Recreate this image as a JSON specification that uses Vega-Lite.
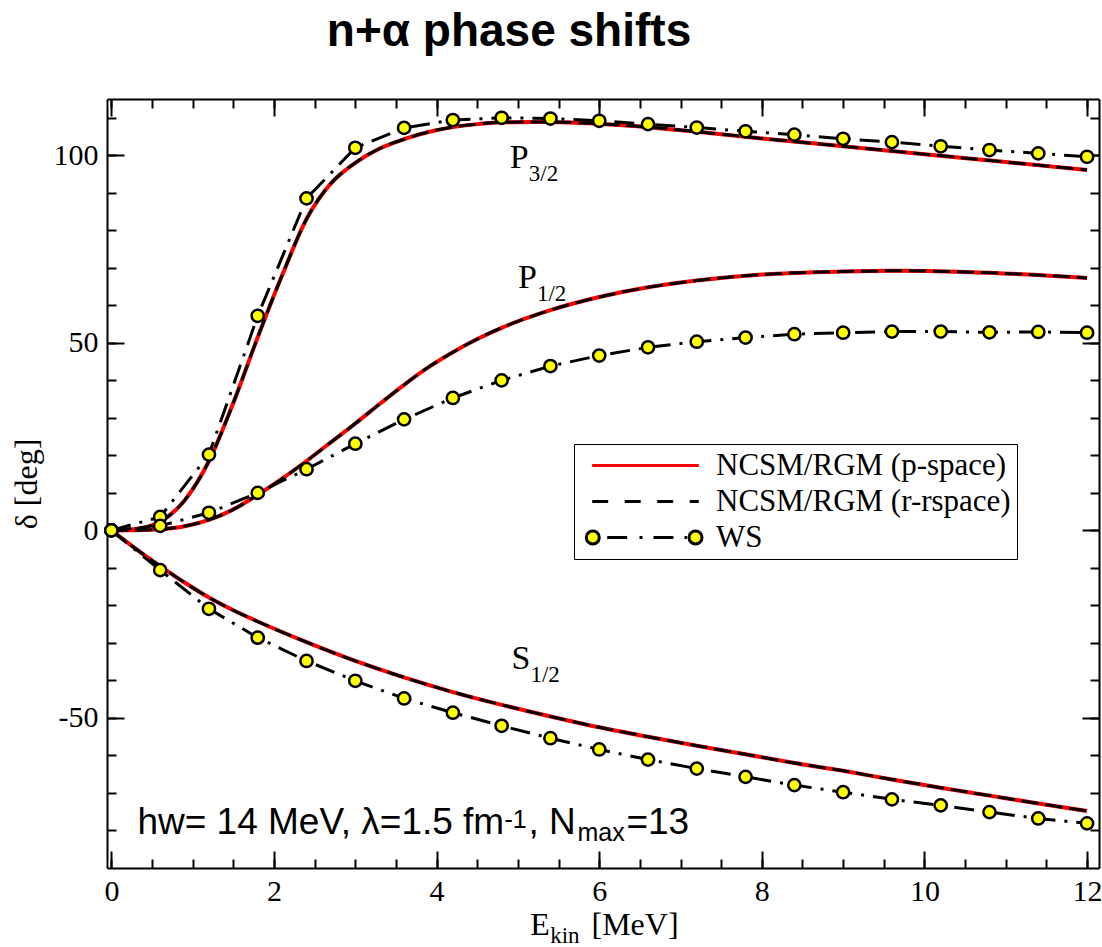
{
  "$schema": "https://vega.github.io/schema/vega-lite/v6.json",
  "width": 992,
  "height": 769,
  "autosize": {"type": "none"},
  "padding": {"left": 107, "top": 99, "right": 3, "bottom": 79},
  "background": "white",
  "config": {"view": {"stroke": null}, "font": "Liberation Serif"},
  "title": {"text": "n+α phase shifts", "font": "Liberation Sans", "fontSize": 46, "fontWeight": "bold", "color": "black", "anchor": "middle", "frame": "group", "dx": -94, "offset": 6, "baseline": "alphabetic"},
  "datasets": {
    "curves": [
      {"wave": "P3/2", "E": 0, "delta": 0}, {"wave": "P3/2", "E": 0.3, "delta": 0.4}, {"wave": "P3/2", "E": 0.6, "delta": 2.3}, {"wave": "P3/2", "E": 0.9, "delta": 8}, {"wave": "P3/2", "E": 1.2, "delta": 18.5}, {"wave": "P3/2", "E": 1.5, "delta": 34}, {"wave": "P3/2", "E": 1.8, "delta": 51.5}, {"wave": "P3/2", "E": 2.1, "delta": 68}, {"wave": "P3/2", "E": 2.4, "delta": 83}, {"wave": "P3/2", "E": 2.7, "delta": 92.5}, {"wave": "P3/2", "E": 3.0, "delta": 98}, {"wave": "P3/2", "E": 3.3, "delta": 101.8}, {"wave": "P3/2", "E": 3.6, "delta": 104.3}, {"wave": "P3/2", "E": 3.9, "delta": 106.2}, {"wave": "P3/2", "E": 4.2, "delta": 107.5}, {"wave": "P3/2", "E": 4.5, "delta": 108.3}, {"wave": "P3/2", "E": 4.8, "delta": 108.8}, {"wave": "P3/2", "E": 5.4, "delta": 108.9}, {"wave": "P3/2", "E": 6.0, "delta": 108.4}, {"wave": "P3/2", "E": 6.6, "delta": 107.5}, {"wave": "P3/2", "E": 7.2, "delta": 106.3}, {"wave": "P3/2", "E": 8.0, "delta": 104.5}, {"wave": "P3/2", "E": 9.0, "delta": 102.4}, {"wave": "P3/2", "E": 10.0, "delta": 100.3}, {"wave": "P3/2", "E": 11.0, "delta": 98.2}, {"wave": "P3/2", "E": 12.0, "delta": 96.1},
      {"wave": "P1/2", "E": 0, "delta": 0}, {"wave": "P1/2", "E": 0.3, "delta": 0.05}, {"wave": "P1/2", "E": 0.6, "delta": 0.3}, {"wave": "P1/2", "E": 0.9, "delta": 1.1}, {"wave": "P1/2", "E": 1.2, "delta": 2.8}, {"wave": "P1/2", "E": 1.5, "delta": 5.6}, {"wave": "P1/2", "E": 1.8, "delta": 9.5}, {"wave": "P1/2", "E": 2.1, "delta": 13.8}, {"wave": "P1/2", "E": 2.4, "delta": 18.5}, {"wave": "P1/2", "E": 2.7, "delta": 23.5}, {"wave": "P1/2", "E": 3.0, "delta": 28.5}, {"wave": "P1/2", "E": 3.3, "delta": 33.7}, {"wave": "P1/2", "E": 3.6, "delta": 38.8}, {"wave": "P1/2", "E": 3.9, "delta": 43.5}, {"wave": "P1/2", "E": 4.2, "delta": 47.5}, {"wave": "P1/2", "E": 4.5, "delta": 51}, {"wave": "P1/2", "E": 4.8, "delta": 54}, {"wave": "P1/2", "E": 5.4, "delta": 58.7}, {"wave": "P1/2", "E": 6.0, "delta": 62.2}, {"wave": "P1/2", "E": 6.6, "delta": 64.8}, {"wave": "P1/2", "E": 7.2, "delta": 66.6}, {"wave": "P1/2", "E": 8.0, "delta": 68.2}, {"wave": "P1/2", "E": 9.0, "delta": 69.0}, {"wave": "P1/2", "E": 9.6, "delta": 69.2}, {"wave": "P1/2", "E": 10.5, "delta": 68.9}, {"wave": "P1/2", "E": 11.2, "delta": 68.3}, {"wave": "P1/2", "E": 12.0, "delta": 67.3},
      {"wave": "S1/2", "E": 0, "delta": 0}, {"wave": "S1/2", "E": 0.3, "delta": -4.9}, {"wave": "S1/2", "E": 0.6, "delta": -9.5}, {"wave": "S1/2", "E": 0.9, "delta": -13.9}, {"wave": "S1/2", "E": 1.2, "delta": -17.9}, {"wave": "S1/2", "E": 1.5, "delta": -21.3}, {"wave": "S1/2", "E": 1.8, "delta": -24.3}, {"wave": "S1/2", "E": 2.4, "delta": -29.8}, {"wave": "S1/2", "E": 3.0, "delta": -34.8}, {"wave": "S1/2", "E": 3.6, "delta": -39.2}, {"wave": "S1/2", "E": 4.2, "delta": -43.1}, {"wave": "S1/2", "E": 4.8, "delta": -46.5}, {"wave": "S1/2", "E": 5.4, "delta": -49.6}, {"wave": "S1/2", "E": 6.0, "delta": -52.5}, {"wave": "S1/2", "E": 6.6, "delta": -55.0}, {"wave": "S1/2", "E": 7.2, "delta": -57.4}, {"wave": "S1/2", "E": 7.8, "delta": -59.7}, {"wave": "S1/2", "E": 8.4, "delta": -62.0}, {"wave": "S1/2", "E": 9.0, "delta": -64.1}, {"wave": "S1/2", "E": 9.6, "delta": -66.4}, {"wave": "S1/2", "E": 10.2, "delta": -68.6}, {"wave": "S1/2", "E": 10.8, "delta": -70.7}, {"wave": "S1/2", "E": 11.4, "delta": -72.8}, {"wave": "S1/2", "E": 12.0, "delta": -74.8}
    ],
    "ws": [
      {"wave": "P3/2", "E": 0, "delta": 0}, {"wave": "P3/2", "E": 0.6, "delta": 3.6}, {"wave": "P3/2", "E": 1.2, "delta": 20.2}, {"wave": "P3/2", "E": 1.8, "delta": 57.2}, {"wave": "P3/2", "E": 2.4, "delta": 88.5}, {"wave": "P3/2", "E": 3.0, "delta": 102.0}, {"wave": "P3/2", "E": 3.6, "delta": 107.3}, {"wave": "P3/2", "E": 4.2, "delta": 109.4}, {"wave": "P3/2", "E": 4.8, "delta": 110.0}, {"wave": "P3/2", "E": 5.4, "delta": 109.8}, {"wave": "P3/2", "E": 6.0, "delta": 109.2}, {"wave": "P3/2", "E": 6.6, "delta": 108.3}, {"wave": "P3/2", "E": 7.2, "delta": 107.4}, {"wave": "P3/2", "E": 7.8, "delta": 106.4}, {"wave": "P3/2", "E": 8.4, "delta": 105.5}, {"wave": "P3/2", "E": 9.0, "delta": 104.4}, {"wave": "P3/2", "E": 9.6, "delta": 103.5}, {"wave": "P3/2", "E": 10.2, "delta": 102.4}, {"wave": "P3/2", "E": 10.8, "delta": 101.4}, {"wave": "P3/2", "E": 11.4, "delta": 100.5}, {"wave": "P3/2", "E": 12.0, "delta": 99.6},
      {"wave": "P1/2", "E": 0, "delta": 0}, {"wave": "P1/2", "E": 0.6, "delta": 1.2}, {"wave": "P1/2", "E": 1.2, "delta": 4.7}, {"wave": "P1/2", "E": 1.8, "delta": 10.0}, {"wave": "P1/2", "E": 2.4, "delta": 16.3}, {"wave": "P1/2", "E": 3.0, "delta": 23.1}, {"wave": "P1/2", "E": 3.6, "delta": 29.6}, {"wave": "P1/2", "E": 4.2, "delta": 35.3}, {"wave": "P1/2", "E": 4.8, "delta": 40.0}, {"wave": "P1/2", "E": 5.4, "delta": 43.8}, {"wave": "P1/2", "E": 6.0, "delta": 46.6}, {"wave": "P1/2", "E": 6.6, "delta": 48.8}, {"wave": "P1/2", "E": 7.2, "delta": 50.3}, {"wave": "P1/2", "E": 7.8, "delta": 51.4}, {"wave": "P1/2", "E": 8.4, "delta": 52.3}, {"wave": "P1/2", "E": 9.0, "delta": 52.7}, {"wave": "P1/2", "E": 9.6, "delta": 53.0}, {"wave": "P1/2", "E": 10.2, "delta": 53.0}, {"wave": "P1/2", "E": 10.8, "delta": 52.8}, {"wave": "P1/2", "E": 11.4, "delta": 52.9}, {"wave": "P1/2", "E": 12.0, "delta": 52.7},
      {"wave": "S1/2", "E": 0, "delta": 0}, {"wave": "S1/2", "E": 0.6, "delta": -10.6}, {"wave": "S1/2", "E": 1.2, "delta": -20.9}, {"wave": "S1/2", "E": 1.8, "delta": -28.6}, {"wave": "S1/2", "E": 2.4, "delta": -34.8}, {"wave": "S1/2", "E": 3.0, "delta": -40.1}, {"wave": "S1/2", "E": 3.6, "delta": -44.8}, {"wave": "S1/2", "E": 4.2, "delta": -48.6}, {"wave": "S1/2", "E": 4.8, "delta": -52.1}, {"wave": "S1/2", "E": 5.4, "delta": -55.4}, {"wave": "S1/2", "E": 6.0, "delta": -58.4}, {"wave": "S1/2", "E": 6.6, "delta": -61.1}, {"wave": "S1/2", "E": 7.2, "delta": -63.5}, {"wave": "S1/2", "E": 7.8, "delta": -65.7}, {"wave": "S1/2", "E": 8.4, "delta": -67.9}, {"wave": "S1/2", "E": 9.0, "delta": -69.8}, {"wave": "S1/2", "E": 9.6, "delta": -71.7}, {"wave": "S1/2", "E": 10.2, "delta": -73.3}, {"wave": "S1/2", "E": 10.8, "delta": -75.1}, {"wave": "S1/2", "E": 11.4, "delta": -76.8}, {"wave": "S1/2", "E": 12.0, "delta": -78.1}
    ],
    "methods": [
      {"method": "NCSM/RGM (p-space)"},
      {"method": "NCSM/RGM (r-rspace)"},
      {"method": "WS"}
    ],
    "labels": [
      {"main": "P", "sub": "3/2", "E": 4.9, "delta": 96.6},
      {"main": "P", "sub": "1/2", "E": 5.0, "delta": 64.6},
      {"main": "S", "sub": "1/2", "E": 4.92, "delta": -36.9}
    ],
    "note": [
      {"E": 0.32, "delta": -81.0, "main": "hw= 14 MeV, λ=1.5 fm", "sup": "-1", "mid": ", N", "sub": "max", "end": "=13"}
    ]
  },
  "resolve": {"axis": {"x": "independent", "y": "independent"}},
  "layer": [
    {
      "data": {"name": "curves"},
      "mark": {"type": "line", "stroke": "#ff0000", "strokeWidth": 4, "interpolate": "monotone"},
      "encoding": {
        "x": {"field": "E", "type": "quantitative", "scale": {"domain": [-0.054, 12.147], "nice": false, "zero": false},
          "axis": {"orient": "bottom", "values": [0, 2, 4, 6, 8, 10, 12], "tickSize": -17, "tickWidth": 2, "tickColor": "black", "labelPadding": 25, "labelFont": "Liberation Serif", "labelFontSize": 30, "labelColor": "black", "labelFlush": false, "labelOverlap": false, "labelExpr": "'' + datum.value", "domainColor": "black", "domainWidth": 2, "grid": false,
            "title": "E", "titleFont": "Liberation Serif", "titleFontSize": 32, "titleFontWeight": "normal", "titleColor": "black", "titleX": 422.7, "titleY": 66.7, "titleAlign": "left", "titleBaseline": "alphabetic"}},
        "y": {"field": "delta", "type": "quantitative", "scale": {"domain": [-90, 115], "nice": false, "zero": false},
          "axis": {"orient": "left", "values": [-50, 0, 50, 100], "tickSize": -17, "tickWidth": 2, "tickColor": "black", "labelPadding": 26, "labelFont": "Liberation Serif", "labelFontSize": 30, "labelColor": "black", "labelOverlap": false, "labelFlush": false, "labelExpr": "'' + datum.value", "domainColor": "black", "domainWidth": 2, "grid": false,
            "title": "δ [deg]", "titleFont": "Liberation Serif", "titleFontSize": 32, "titleFontWeight": "normal", "titleColor": "black", "titlePadding": 10}},
        "detail": {"field": "wave"}
      }
    },
    {
      "data": {"name": "curves"},
      "mark": {"type": "line", "stroke": "black", "strokeWidth": 3, "strokeDash": [17, 7], "interpolate": "monotone"},
      "encoding": {
        "x": {"field": "E", "type": "quantitative",
          "axis": {"orient": "bottom", "values": [0, 0.5, 1, 1.5, 2, 2.5, 3, 3.5, 4, 4.5, 5, 5.5, 6, 6.5, 7, 7.5, 8, 8.5, 9, 9.5, 10, 10.5, 11, 11.5, 12], "tickSize": -9, "tickWidth": 2, "tickColor": "black", "labels": false, "domain": false, "grid": false,
            "title": "kin", "titleFont": "Liberation Serif", "titleFontSize": 23, "titleFontWeight": "normal", "titleColor": "black", "titleX": 442.7, "titleY": 74.4, "titleAlign": "left", "titleBaseline": "alphabetic"}},
        "y": {"field": "delta", "type": "quantitative",
          "axis": {"orient": "left", "values": [-80, -70, -60, -50, -40, -30, -20, -10, 0, 10, 20, 30, 40, 50, 60, 70, 80, 90, 100, 110], "tickSize": -9, "tickWidth": 2, "tickColor": "black", "labels": false, "domain": false, "grid": false, "title": null}},
        "detail": {"field": "wave"}
      }
    },
    {
      "data": {"name": "ws"},
      "mark": {"type": "line", "stroke": "black", "strokeWidth": 3, "strokeDash": [20, 9, 3, 9]},
      "encoding": {
        "x": {"field": "E", "type": "quantitative",
          "axis": {"orient": "top", "values": [0, 2, 4, 6, 8, 10, 12], "tickSize": -17, "tickWidth": 2, "tickColor": "black", "labels": false, "domainColor": "black", "domainWidth": 2, "grid": false, "title": null}},
        "y": {"field": "delta", "type": "quantitative",
          "axis": {"orient": "right", "values": [-50, 0, 50, 100], "tickSize": -17, "tickWidth": 2, "tickColor": "black", "labels": false, "domainColor": "black", "domainWidth": 2, "grid": false, "title": null}},
        "detail": {"field": "wave"}
      }
    },
    {
      "data": {"name": "ws"},
      "mark": {"type": "point", "shape": "circle", "filled": true, "fill": "#ffff00", "stroke": "black", "strokeWidth": 2.5, "size": 150, "opacity": 1},
      "encoding": {
        "x": {"field": "E", "type": "quantitative",
          "axis": {"orient": "top", "values": [0, 0.5, 1, 1.5, 2, 2.5, 3, 3.5, 4, 4.5, 5, 5.5, 6, 6.5, 7, 7.5, 8, 8.5, 9, 9.5, 10, 10.5, 11, 11.5, 12], "tickSize": -9, "tickWidth": 2, "tickColor": "black", "labels": false, "domain": false, "grid": false, "title": null}},
        "y": {"field": "delta", "type": "quantitative",
          "axis": {"orient": "right", "values": [-80, -70, -60, -50, -40, -30, -20, -10, 0, 10, 20, 30, 40, 50, 60, 70, 80, 90, 100, 110], "tickSize": -9, "tickWidth": 2, "tickColor": "black", "labels": false, "domain": false, "grid": false, "title": null}}
      }
    },
    {
      "data": {"name": "methods"},
      "mark": {"type": "point", "opacity": 0, "size": 100},
      "encoding": {
        "x": {"datum": 0, "type": "quantitative", "axis": null},
        "y": {"datum": 0, "type": "quantitative", "axis": null},
        "shape": {"field": "method", "type": "nominal",
          "scale": {"domain": ["NCSM/RGM (p-space)", "NCSM/RGM (r-rspace)", "WS"],
            "range": ["M-10.67,0L10.67,0", "M-10.66,0L-7.46,0M-4.16,0L-0.96,0M2.34,0L5.54,0M8.84,0L10.66,0", "M-9.24,0C-9.24,0.718,-9.822,1.3,-10.54,1.3C-11.258,1.3,-11.84,0.718,-11.84,0C-11.84,-0.718,-11.258,-1.3,-10.54,-1.3C-9.822,-1.3,-9.24,-0.718,-9.24,0ZM11.3,0C11.3,0.718,10.718,1.3,10,1.3C9.282,1.3,8.7,0.718,8.7,0C8.7,-0.718,9.282,-1.3,10,-1.3C10.718,-1.3,11.3,-0.718,11.3,0ZM-7.66,0L-3.66,0M-1.2,0L-0.6,0M1.6,0L5.6,0M7.8,0L8.3,0"]},
          "legend": {"orient": "none", "legendX": 467, "legendY": 345, "title": null, "fillColor": "white", "strokeColor": "black", "padding": 6, "rowPadding": 4,
            "labelFont": "Liberation Serif", "labelFontSize": 31, "labelColor": "black", "labelLimit": 0,
            "symbolSize": 100, "symbolOffset": 50, "labelOffset": 55, "symbolStrokeWidth": 3, "symbolOpacity": 1}},
        "stroke": {"field": "method", "type": "nominal",
          "scale": {"domain": ["NCSM/RGM (p-space)", "NCSM/RGM (r-rspace)", "WS"], "range": ["#ff0000", "#000000", "#000000"]}},
        "fill": {"field": "method", "type": "nominal",
          "scale": {"domain": ["NCSM/RGM (p-space)", "NCSM/RGM (r-rspace)", "WS"], "range": ["transparent", "transparent", "#ffff00"]}}
      }
    },
    {
      "data": {"name": "labels"},
      "mark": {"type": "text", "font": "Liberation Serif", "fontSize": 34, "align": "left", "baseline": "alphabetic", "color": "black"},
      "encoding": {
        "x": {"field": "E", "type": "quantitative",
          "axis": {"orient": "bottom", "ticks": false, "labels": false, "domain": false, "grid": false,
            "title": "[MeV]", "titleFont": "Liberation Serif", "titleFontSize": 32, "titleFontWeight": "normal", "titleColor": "black", "titleX": 484, "titleY": 66.7, "titleAlign": "left", "titleBaseline": "alphabetic"}},
        "y": {"field": "delta", "type": "quantitative", "axis": null},
        "text": {"field": "main"}
      }
    },
    {
      "data": {"name": "labels"},
      "mark": {"type": "text", "font": "Liberation Serif", "fontSize": 23, "align": "left", "baseline": "alphabetic", "color": "black", "dx": 19, "dy": 13},
      "encoding": {
        "x": {"field": "E", "type": "quantitative", "axis": null},
        "y": {"field": "delta", "type": "quantitative", "axis": null},
        "text": {"field": "sub"}
      }
    },
    {
      "data": {"name": "note"},
      "mark": {"type": "text", "font": "Liberation Sans", "fontSize": 37, "align": "left", "baseline": "alphabetic", "color": "black"},
      "encoding": {
        "x": {"field": "E", "type": "quantitative", "axis": null},
        "y": {"field": "delta", "type": "quantitative", "axis": null},
        "text": {"field": "main"}
      }
    },
    {
      "data": {"name": "note"},
      "mark": {"type": "text", "font": "Liberation Sans", "fontSize": 25, "align": "left", "baseline": "alphabetic", "color": "black", "dx": 367, "dy": -6},
      "encoding": {
        "x": {"field": "E", "type": "quantitative", "axis": null},
        "y": {"field": "delta", "type": "quantitative", "axis": null},
        "text": {"field": "sup"}
      }
    },
    {
      "data": {"name": "note"},
      "mark": {"type": "text", "font": "Liberation Sans", "fontSize": 37, "align": "left", "baseline": "alphabetic", "color": "black", "dx": 391},
      "encoding": {
        "x": {"field": "E", "type": "quantitative", "axis": null},
        "y": {"field": "delta", "type": "quantitative", "axis": null},
        "text": {"field": "mid"}
      }
    },
    {
      "data": {"name": "note"},
      "mark": {"type": "text", "font": "Liberation Sans", "fontSize": 25, "align": "left", "baseline": "alphabetic", "color": "black", "dx": 440, "dy": 7},
      "encoding": {
        "x": {"field": "E", "type": "quantitative", "axis": null},
        "y": {"field": "delta", "type": "quantitative", "axis": null},
        "text": {"field": "sub"}
      }
    },
    {
      "data": {"name": "note"},
      "mark": {"type": "text", "font": "Liberation Sans", "fontSize": 37, "align": "left", "baseline": "alphabetic", "color": "black", "dx": 489},
      "encoding": {
        "x": {"field": "E", "type": "quantitative", "axis": null},
        "y": {"field": "delta", "type": "quantitative", "axis": null},
        "text": {"field": "end"}
      }
    }
  ]
}
